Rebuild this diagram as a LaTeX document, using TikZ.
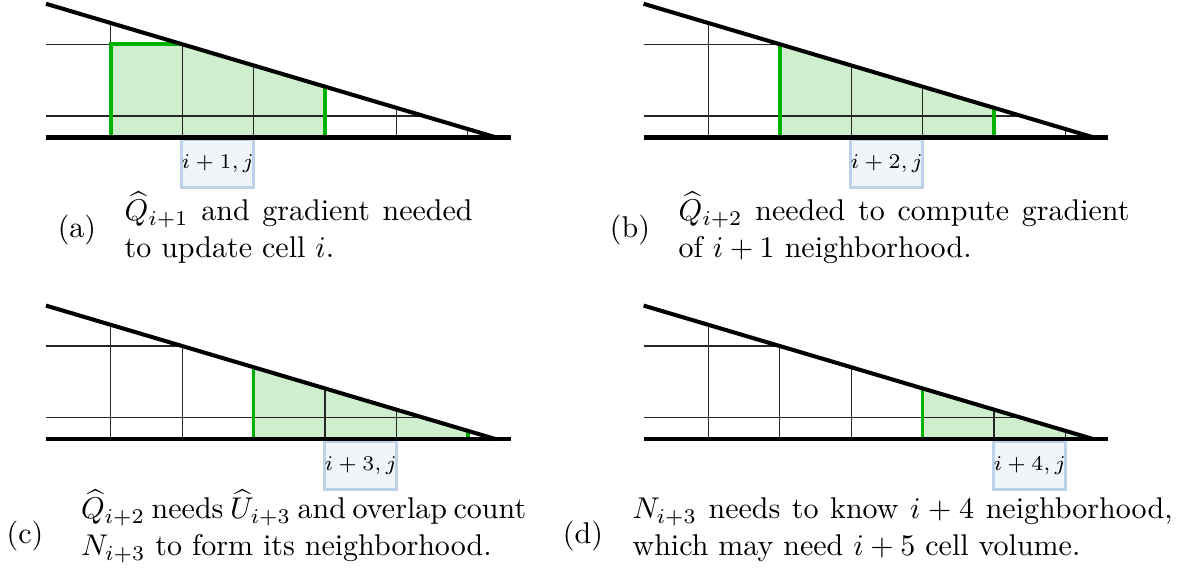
\documentclass[tikz,border=0pt]{standalone}
\usepackage{amsmath}
\definecolor{gstroke}{RGB}{0,178,0}
\definecolor{gfillc}{RGB}{206,238,206}
\definecolor{boxborder}{RGB}{188,210,230}
\definecolor{boxfill}{RGB}{240,245,250}
\newcommand\meshgrid{%
  \draw[gridline] (-64.7,-21.4) -- (313.5,-21.4);
  \draw[gridline] (-64.7,-93.3) -- (71.4,-93.3);
  \draw[gridline] (0,0) -- (0,-114.5);
  \draw[gridline] (71.4,0) -- (71.4,-93.3);
  \draw[gridline] (142.8,0) -- (142.8,-72.1);
  \draw[gridline] (214.2,0) -- (214.2,-50.9);
  \draw[gridline] (285.6,0) -- (285.6,-29.7);
  \draw[gridline] (357,0) -- (357,-8.5);
}
\newcommand\wedgeoutline{%
  \draw[wedgeline] (-64.7,0) -- (400,0);
  \draw[wedgeline] (-64.7,-133.7) -- (385.6,0);
}
\begin{document}
\begin{tikzpicture}[x=0.33333pt,y=-0.33333pt,
  gridline/.style={black!85,line width=0.4pt},
  wedgeline/.style={black,line width=1.35pt},
  gline/.style={gstroke,line width=1.2pt},
  gfill/.style={fill=gfillc},
  lbl/.style={draw=boxborder,fill=boxfill,line width=1pt,minimum width=23pt,
    minimum height=16pt,inner sep=0pt,anchor=north,font=\fontsize{7.5}{9}\selectfont},
  captext/.style={anchor=base west,inner sep=0pt},
  tagtext/.style={anchor=base,inner sep=0pt}]
\useasboundingbox (0,0) rectangle (1189,578);

% (a)
\begin{scope}[shift={(110.7,137.5)}]
  \fill[gfill] (0,0) -- (0,-93.3) -- (71.4,-93.3) -- (214.2,-50.9) -- (214.2,0) -- cycle;
  \meshgrid
  \draw[gline] (0,0) -- (0,-93.3) -- (71.4,-93.3);
  \draw[gline] (214.2,0) -- (214.2,-50.9);
  \node[lbl] (la) at (107.1,1) {$i+1,j$};
  \wedgeoutline
\end{scope}
% (b)
\begin{scope}[shift={(708.3,137.5)}]
  \fill[gfill] (71.4,0) -- (71.4,-93.3) -- (285.6,-29.7) -- (285.6,0) -- cycle;
  \meshgrid
  \draw[gline] (71.4,0) -- (71.4,-93.3);
  \draw[gline] (285.6,0) -- (285.6,-29.7);
  \node[lbl] (lb) at (178.5,1) {$i+2,j$};
  \wedgeoutline
\end{scope}
% (c)
\begin{scope}[shift={(110.7,439.3)}]
  \fill[gfill] (142.8,0) -- (142.8,-72.1) -- (357,-8.5) -- (357,0) -- cycle;
  \meshgrid
  \draw[gline] (142.8,0) -- (142.8,-72.1);
  \draw[gline] (357,0) -- (357,-8.5);
  \node[lbl] (lc) at (249.9,1) {$i+3,j$};
  \wedgeoutline
\end{scope}
% (d)
\begin{scope}[shift={(708.3,439.3)}]
  \fill[gfill] (214.2,0) -- (214.2,-50.9) -- (385.6,0) -- cycle;
  \meshgrid
  \draw[gline] (214.2,0) -- (214.2,-50.9);
  \node[lbl] (ld) at (321.3,1) {$i+4,j$};
  \wedgeoutline
\end{scope}

% captions
\node[tagtext] (ta) at (77,238) {(a)};
\node[captext] (ca1) at (124,221) {\makebox[116pt][s]{$\widehat{Q}_{i+1}$ and gradient needed}};
\node[captext] (ca2) at (124,258) {to update cell $i$.};
\node[tagtext] (tb) at (630,238) {(b)};
\node[captext] (cb1) at (678,221) {\makebox[150.3pt][s]{$\widehat{Q}_{i+2}$ needed to compute gradient}};
\node[captext] (cb2) at (678,258) {of $i+1$ neighborhood.};
\node[tagtext] (tc) at (25,544) {(c)};
\node[captext] (cc1) at (80.4,519) {\makebox[147.2pt][s]{$\widehat{Q}_{i+2}$ needs $\widehat{U}_{i+3}$ and overlap count}};
\node[captext] (cc2) at (80.4,556) {$N_{i+3}$ to form its neighborhood.};
\node[tagtext] (td) at (583,544) {(d)};
\node[captext] (cd1) at (632,519) {\makebox[180pt][s]{$N_{i+3}$ needs to know $i+4$ neighborhood,}};
\node[captext] (cd2) at (632,556) {which may need $i+5$ cell volume.};
\end{tikzpicture}
\end{document}
